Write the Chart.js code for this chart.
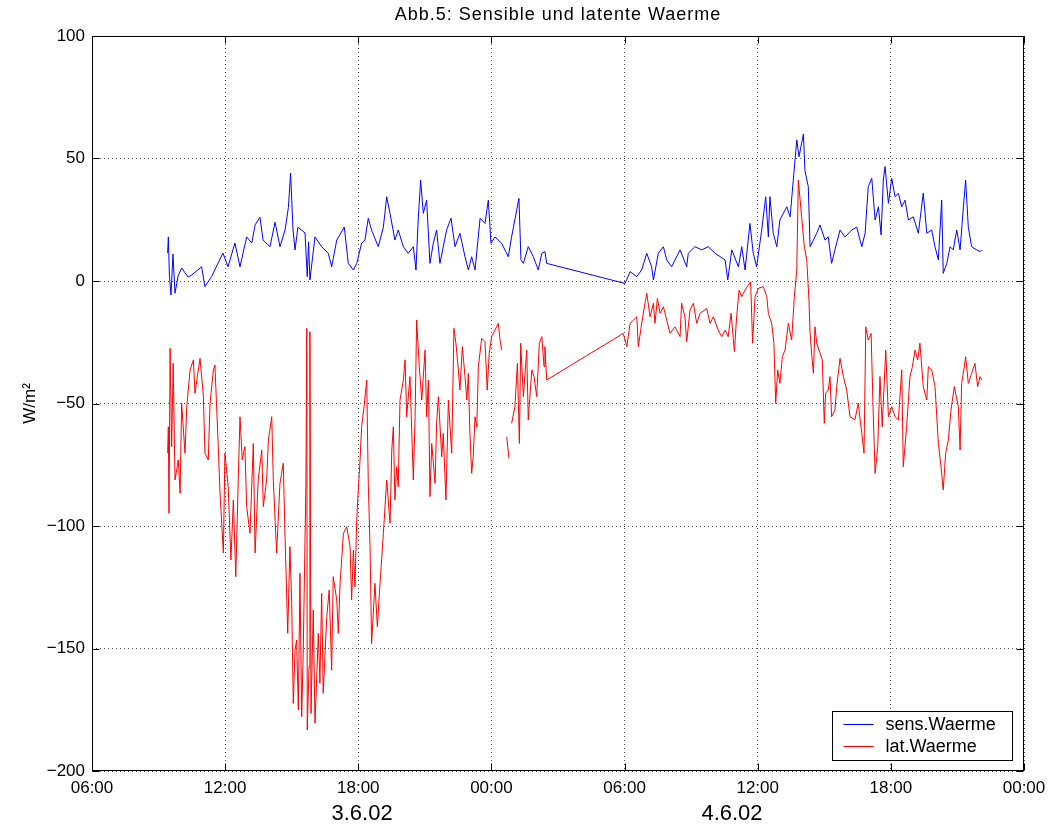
<!DOCTYPE html>
<html>
<head>
<meta charset="utf-8">
<title>Abb.5: Sensible und latente Waerme</title>
<script src="https://cdn.jsdelivr.net/npm/chart.js@4/dist/chart.umd.min.js"></script>
<style>
  html, body { margin: 0; padding: 0; background: #fff; }
</style>
</head>
<body>
<canvas id="waermeChart" width="1048" height="829"></canvas>
<script>
// time axis: hours since 3.6.02 00:00
var sensHours = [
    9.41, 9.44, 9.49, 9.56, 9.65, 9.74, 9.88, 10.04, 10.33, 10.49, 10.94, 11.09, 11.39, 11.68, 11.90,
    12.13, 12.44, 12.67, 12.97, 13.20, 13.35, 13.57, 13.71, 14.02, 14.25, 14.47, 14.70, 14.85, 14.95,
    15.06, 15.15, 15.28, 15.60, 15.70, 15.76, 15.82, 16.05, 16.35, 16.65, 16.80, 17.03, 17.37, 17.55,
    17.78, 17.93, 18.15, 18.30, 18.45, 18.60, 18.90, 19.13, 19.28, 19.43, 19.65, 19.80, 20.03, 20.25,
    20.48, 20.60, 20.70, 20.81, 20.93, 21.08, 21.23, 21.38, 21.53, 21.68, 21.98, 22.18, 22.36, 22.58,
    22.81, 22.96, 23.11, 23.26, 23.49, 23.71, 23.86, 23.98, 24.16, 24.46, 24.76, 24.91, 25.14, 25.24,
    25.33, 25.44, 25.66, 25.89, 26.11, 26.27, 26.41, 26.49,
    30.02, 30.25, 30.55, 30.77, 31.00, 31.22, 31.30, 31.52, 31.75, 31.90, 32.12, 32.50, 32.80, 32.87,
    33.17, 33.48, 33.77, 34.08, 34.53, 34.65, 34.83, 35.13, 35.28, 35.43, 35.65, 35.80, 35.95, 36.18,
    36.36, 36.48, 36.55, 36.70, 36.86, 37.00, 37.31, 37.46, 37.76, 37.86, 38.06, 38.13, 38.28, 38.36,
    38.51, 38.66, 38.81, 39.03, 39.18, 39.33, 39.48, 39.71, 39.93, 40.24, 40.46, 40.69, 40.84, 40.98,
    41.14, 41.29, 41.44, 41.56, 41.66, 41.74, 41.89, 42.04, 42.19, 42.34, 42.49, 42.64, 42.79, 43.01,
    43.24, 43.46, 43.62, 43.84, 43.99, 44.14, 44.29, 44.36, 44.52, 44.67, 44.81, 44.97, 45.12, 45.27,
    45.37, 45.49, 45.64, 45.87, 46.02, 46.10
];
var sensValues = [
    11.4, 18, 1.8, -5.7, 11, -5, 2, 5.3, 1.6, 2.4, 5.8, -2.3, 1.8, 7.3, 11.4,
    5.8, 15.5, 5.8, 18, 15.5, 22.9, 26, 16.7, 14, 24, 14, 20.8, 30, 44,
    20.8, 12.7, 22, 19.6, 1.8, 16, 0.4, 18, 14, 11.3, 5.8, 16.7, 22, 7.2,
    4.5, 7.2, 15.4, 16.7, 25.6, 20.8, 14, 22, 34.4, 27.6, 16.7, 20.8, 14, 11.3,
    14, 4.5, 24.9, 41.2, 27.6, 33, 7.2, 15.4, 20.8, 7.2, 20.8, 25.6, 14, 19.5,
    9.9, 4.5, 9.9, 4.5, 25.6, 23.5, 33, 15.4, 18, 15.4, 9.9, 18, 29, 33.7,
    8.6, 7.2, 14, 9.9, 4.5, 11.3, 12, 7.2,
    -1, 3.8, 1.8, 4.5, 11.3, 5.8, 0.4, 11.3, 14, 8.6, 5.8, 12.7, 5.8, 11.3,
    14, 12.7, 14, 11.3, 8.6, 0.4, 12.7, 5.8, 14, 4.5, 23.5, 11.3, 5.8, 20.8,
    34.4, 18, 34.4, 19.5, 14, 24.9, 30.3, 26.2, 57.6, 50.7, 60, 45, 38.5, 14,
    16.7, 19.5, 22.9, 16.7, 18, 7.2, 12.7, 20.8, 18, 20.8, 22, 14, 19.5, 38.5,
    41.9, 24.9, 30.3, 18.8, 41.2, 46.7, 31.7, 41.9, 34.4, 35.8, 30.3, 33, 24.9, 26.2,
    19.5, 35.8, 19.5, 20.8, 14, 8.6, 33, 3.1, 7.2, 14, 12.7, 20.8, 12.7, 30.3,
    41.2, 22, 14, 12.7, 12, 12.7
];

var latHours = [
    9.41, 9.44, 9.47, 9.52, 9.59, 9.66, 9.74, 9.89, 9.97, 10.04, 10.19, 10.27, 10.42, 10.57, 10.64,
    10.79, 10.87, 11.02, 11.09, 11.24, 11.32, 11.47, 11.54, 11.69, 11.77, 11.92, 11.99, 12.14, 12.26,
    12.37, 12.48, 12.59, 12.67, 12.77, 12.89, 12.97, 13.12, 13.27, 13.35, 13.49, 13.65, 13.72, 13.87,
    13.95, 14.10, 14.17, 14.32, 14.47, 14.62, 14.70, 14.82, 14.92, 15.00, 15.07, 15.15, 15.22, 15.30,
    15.37, 15.45, 15.52, 15.64, 15.68, 15.70, 15.78, 15.82, 15.87, 15.97, 16.05, 16.20, 16.27, 16.35,
    16.42, 16.58, 16.69, 16.80, 16.87, 17.03, 17.10, 17.18, 17.25, 17.33, 17.48, 17.63, 17.70, 17.78,
    17.85, 17.93, 18.00, 18.08, 18.15, 18.26, 18.38, 18.45, 18.53, 18.60, 18.75, 18.86, 18.98, 19.13,
    19.28, 19.35, 19.43, 19.51, 19.58, 19.65, 19.73, 19.80, 19.88, 20.03, 20.11, 20.18, 20.33, 20.48,
    20.56, 20.63, 20.75, 20.86, 21.01, 21.08, 21.16, 21.23, 21.31, 21.46, 21.53, 21.61, 21.76, 21.83,
    21.95, 22.06, 22.21, 22.31, 22.40, 22.51, 22.58, 22.69, 22.81, 22.89, 22.96, 23.03, 23.11, 23.18,
    23.26, 23.34, 23.41, 23.56, 23.71, 23.81, 23.90, 24.01, 24.16, 24.31, 24.39, 24.46, 24.58, 24.69,
    24.79, 24.85, 24.91, 25.06, 25.17, 25.26, 25.32, 25.44, 25.59, 25.66, 25.82, 25.92, 26.04, 26.16,
    26.27, 26.37, 26.41, 26.49,
    29.94, 30.10, 30.25, 30.55, 30.62, 30.77, 30.92, 31.00, 31.15, 31.30, 31.37, 31.48, 31.60, 31.75,
    32.05, 32.27, 32.50, 32.57, 32.72, 32.80, 32.95, 33.10, 33.25, 33.40, 33.70, 33.85, 34.00, 34.22,
    34.38, 34.53, 34.67, 34.80, 34.95, 35.05, 35.16, 35.28, 35.43, 35.58, 35.68, 35.77, 35.88, 36.03,
    36.25, 36.41, 36.48, 36.63, 36.73, 36.81, 36.90, 37.00, 37.11, 37.23, 37.38, 37.53, 37.65, 37.76,
    37.83, 37.98, 38.10, 38.21, 38.31, 38.36, 38.43, 38.51, 38.58, 38.66, 38.81, 38.91, 39.00, 39.06,
    39.18, 39.26, 39.33, 39.48, 39.56, 39.71, 39.86, 40.01, 40.16, 40.38, 40.53, 40.69, 40.79, 40.87,
    40.98, 41.11, 41.21, 41.29, 41.41, 41.51, 41.61, 41.77, 41.89, 42.04, 42.19, 42.34, 42.49, 42.56,
    42.71, 42.86, 42.97, 43.09, 43.21, 43.31, 43.46, 43.62, 43.69, 43.84, 43.99, 44.14, 44.26, 44.36,
    44.47, 44.59, 44.71, 44.86, 45.04, 45.12, 45.19, 45.31, 45.37, 45.49, 45.64, 45.79, 45.91, 46.02,
    46.10
];
var latValues = [
    -70.3, -59.5, -94.8, -27.5, -67.6, -33.6, -81.2, -73, -86.7, -49.9, -70.3, -51.3, -36.3, -32.2, -45.8,
    -36.3, -31.6, -47.2, -70.3, -73, -49.9, -36.3, -34.3, -67.6, -86.7, -111, -70.3, -84, -113.9,
    -89.4, -120.7, -81.2, -55.4, -73, -67.6, -92.1, -103, -66.3, -111, -81.2, -69, -92.1, -81.2,
    -64.9, -55.4, -81.2, -111, -82.6, -74.4, -104.4, -143.8, -108.4, -131.6, -172.4, -150.6, -146.5, -175.1,
    -119.3, -177.8, -150.6, -82.6, -19.3, -183.3, -157.4, -20.7, -176.5, -134.3, -180.5, -143.8, -164.2, -127.5,
    -168.3, -137, -126.1, -158.8, -120.7, -130.2, -143.8, -123.4, -113.9, -103, -100.3, -108.4, -130.2, -109.8,
    -124.8, -97.6, -85.3, -73, -59.5, -51.3, -40.4, -82.6, -108.4, -148, -123.4, -141.1, -123.4, -103,
    -81.2, -89.4, -98.9, -69, -59.5, -89.4, -75.8, -84, -48.6, -40.4, -32.2, -55.4, -39, -81.2,
    -55.4, -15.9, -35, -48.6, -28.2, -55.4, -40.4, -88, -66.3, -82.6, -58.1, -47.2, -71.7, -62.2,
    -89.4, -48.6, -70.3, -19.3, -25.4, -36.3, -44.5, -26.8, -39, -48.6, -37.7, -62.2, -78.5, -71.7,
    -55.4, -59.5, -35, -23.4, -24.8, -44.5, -29.5, -22.7, -20, -17.3, -24.1, -28.2, null, -63.6,
    -72.4, null, -58.1, -51.3, -33.6, -66.3, -25.4, -47.2, -28.2, -56.7, -36.3, -39, -47.2, -25.4,
    -22.7, -35, -26.8, -40.4,
    -21.4, -26.8, -17.3, -14.6, -26.8, -17.3, -9.1, -5, -14.6, -9.1, -17.3, -7.1, -13.2, -10.5,
    -21.4, -18.7, -22.7, -9.1, -14.6, -24.8, -11.8, -9.1, -17.3, -13.2, -11.2, -17.3, -14.6, -20,
    -22.7, -20, -22.7, -13.2, -28.8, -14.6, -3.7, -6.4, -3.7, -1.6, -0.3, -25.4, -6.4, -3,
    -2.3, -6.4, -13.2, -17.3, -25.4, -50, -36.3, -41.8, -30.9, -28.2, -17.3, -24.1, -6.4, 4.5,
    41.2, 26.2, 14, 8.6, -7.8, -21.4, -29.5, -37.7, -18.7, -25.4, -29.5, -32.2, -58.1, -45.8,
    -44.5, -39, -55.4, -52.7, -43.1, -31.6, -39, -44.5, -55.4, -56.7, -49.9, -62.2, -70.3, -18.7,
    -24.1, -21.4, -55.4, -78.5, -67.6, -39, -59.5, -28.2, -55.4, -51.3, -55.4, -56.7, -36.3, -75.8,
    -59.5, -39, -35, -28.2, -32.2, -25.4, -43.1, -48.6, -35, -36.3, -43.1, -66.3, -75.8, -85.3,
    -70.3, -64.9, -52.7, -43.1, -51.3, -69, -41.8, -35, -30.9, -41.8, -37.7, -33.6, -43.1, -39,
    -40.4
];

var seriesLabels = ['sens.Waerme', 'lat.Waerme'];
var seriesColors = ['#0000ff', '#ff0000'];
var dayLabels = ['3.6.02', '4.6.02'];

var FONT = "'Liberation Sans', Arial, Helvetica, sans-serif";

function toPoints(hours, values) {
    return hours.map(function (h, i) {
        return { x: h, y: values[i] };
    });
}

// title, box, inward ticks, day labels and legend, drawn like the matlab figure
var framePlugin = {
    id: 'frame',
    afterDraw: function (chart) {
        var ctx = chart.ctx;
        var a = chart.chartArea;
        var xs = chart.scales.x, ys = chart.scales.y;
        var L = Math.round(a.left) + 0.5, R = Math.round(a.right) - 0.5;
        var T = Math.round(a.top) + 0.5, B = Math.round(a.bottom) - 0.5;
        ctx.save();

        ctx.strokeStyle = '#000';
        ctx.lineWidth = 1;
        ctx.strokeRect(L, T, R - L, B - T);

        ctx.beginPath();
        xs.ticks.forEach(function (t) {
            var px = Math.round(xs.getPixelForValue(t.value)) + 0.5;
            ctx.moveTo(px, T); ctx.lineTo(px, T + 7);
            ctx.moveTo(px, B); ctx.lineTo(px, B - 7);
        });
        ys.ticks.forEach(function (t) {
            var py = Math.round(ys.getPixelForValue(t.value)) + 0.5;
            ctx.moveTo(L, py); ctx.lineTo(L + 7, py);
            ctx.moveTo(R, py); ctx.lineTo(R - 7, py);
        });
        ctx.stroke();

        ctx.fillStyle = '#000';
        ctx.textAlign = 'center';
        ctx.textBaseline = 'middle';
        ctx.font = '18px ' + FONT;
        ctx.letterSpacing = '1px';
        ctx.fillText('Abb.5: Sensible und latente Waerme', (a.left + a.right) / 2, 15);
        ctx.letterSpacing = '0px';

        ctx.font = '22px ' + FONT;
        ctx.fillText(dayLabels[0], xs.getPixelForValue(18.17), 814);
        ctx.fillText(dayLabels[1], xs.getPixelForValue(34.84), 814);

        // legend box, lower right
        var bw = 180, bh = 49;
        var bx = Math.round(a.right) - 192 + 0.5, by = Math.round(a.bottom) - 60 + 0.5;
        ctx.fillStyle = '#fff';
        ctx.fillRect(bx, by, bw, bh);
        ctx.strokeStyle = '#000';
        ctx.strokeRect(bx, by, bw, bh);
        ctx.textAlign = 'left';
        ctx.font = '18px ' + FONT;
        chart.data.datasets.forEach(function (ds, i) {
            var ly = by + 13 + i * 22;
            ctx.strokeStyle = ds.borderColor;
            ctx.beginPath();
            ctx.moveTo(bx + 11, ly);
            ctx.lineTo(bx + 41, ly);
            ctx.stroke();
            ctx.fillStyle = '#000';
            ctx.fillText(ds.label, bx + 53, ly + 1);
        });
        ctx.restore();
    }
};

var waermeConfig = {
    type: 'line',
    data: {
        datasets: [{
            label: seriesLabels[0],
            data: toPoints(sensHours, sensValues),
            borderColor: seriesColors[0],
            borderWidth: 1,
            pointRadius: 0,
            tension: 0,
            spanGaps: false
        }, {
            label: seriesLabels[1],
            data: toPoints(latHours, latValues),
            borderColor: seriesColors[1],
            borderWidth: 1,
            pointRadius: 0,
            tension: 0,
            spanGaps: false
        }]
    },
    options: {
        responsive: false,
        animation: false,
        layout: {
            padding: { top: 36, right: 24, bottom: 0, left: 0 }
        },
        plugins: {
            legend: { display: false },
            title: { display: false },
            tooltip: { enabled: false }
        },
        scales: {
            x: {
                type: 'linear',
                min: 6,
                max: 48,
                afterFit: function (scale) {
                    scale.height = 58;
                    scale.paddingLeft = 0;
                    scale.paddingRight = 0;
                },
                ticks: {
                    stepSize: 6,
                    color: '#000',
                    padding: 7,
                    maxRotation: 0,
                    font: { family: FONT, size: 17 },
                    callback: function (value) {
                        var h = value % 24;
                        return (h < 10 ? '0' : '') + h + ':00';
                    }
                },
                grid: { color: '#555', lineWidth: 1, drawTicks: false },
                border: { display: false, dash: [1, 3] }
            },
            y: {
                min: -200,
                max: 100,
                afterFit: function (scale) {
                    scale.width = 92;
                    scale.paddingTop = 0;
                    scale.paddingBottom = 0;
                },
                ticks: {
                    stepSize: 50,
                    color: '#000',
                    padding: 7,
                    font: { family: FONT, size: 17 },
                    callback: function (value) {
                        return String(value).replace('-', '\u2212');
                    }
                },
                title: {
                    display: true,
                    text: 'W/m\u00b2',
                    color: '#000',
                    font: { family: FONT, size: 17 },
                    padding: { top: 20, bottom: 0 }
                },
                grid: { color: '#555', lineWidth: 1, drawTicks: false },
                border: { display: false, dash: [1, 3] }
            }
        }
    },
    plugins: [framePlugin]
};

var ctx = document.getElementById('waermeChart').getContext('2d');
window.waermeChart = new Chart(ctx, waermeConfig);
</script>
</body>
</html>
